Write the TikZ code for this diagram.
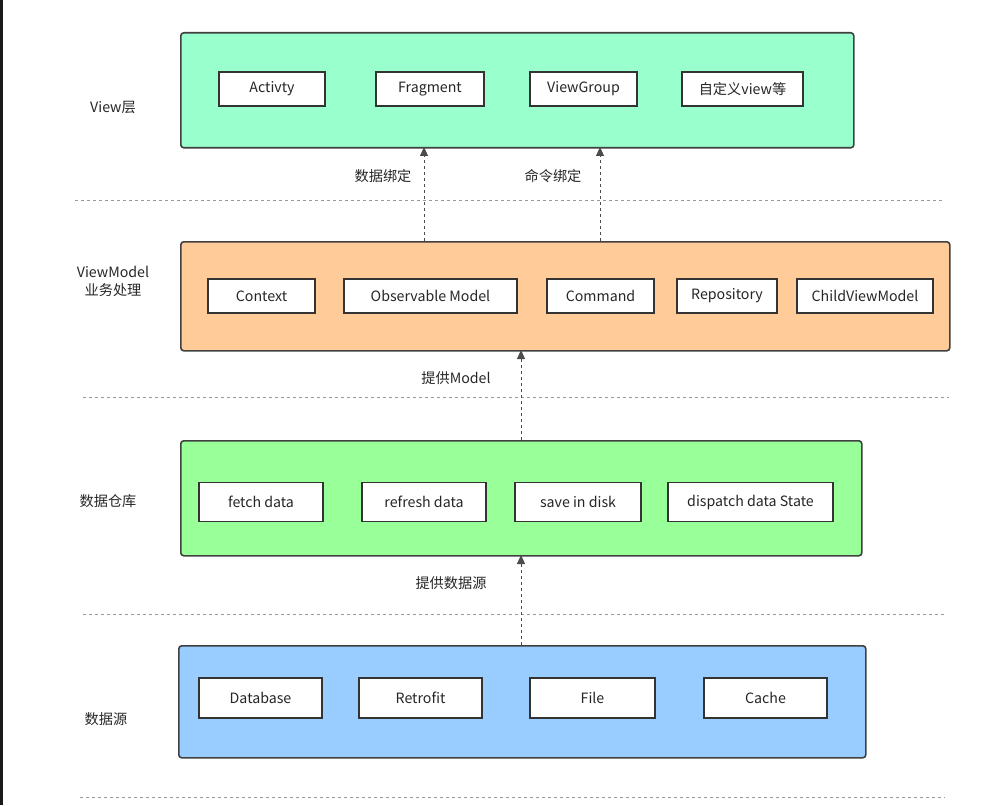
\documentclass[tikz,border=0pt]{standalone}
\usepackage{fontspec}
\setmainfont{Noto Sans CJK SC}
\usetikzlibrary{arrows.meta}
\definecolor{vg}{HTML}{99FFCC}
\definecolor{vo}{HTML}{FFCC99}
\definecolor{vl}{HTML}{99FF99}
\definecolor{vb}{HTML}{99CCFF}
\begin{document}
\begin{tikzpicture}[x=1pt,y=-1pt,font=\fontsize{14.2}{16}\selectfont,
 layer/.style={draw=black!75,line width=1.6pt,rounded corners=3pt},
 item/.style={draw=black!80,line width=1.6pt,fill=white,inner sep=0pt,text=black!85},
 sep/.style={draw=black!40,dashed,line width=0.8pt},
 flow/.style={draw=black!70,dashed,line width=1pt,-{Triangle[length=9pt,width=8pt]}},
 lbl/.style={text=black!85,align=center}]
\useasboundingbox (0,0) rectangle (984,805);
\fill[black!90] (0,0) rectangle (3,805);
\node[layer,fill=vg,minimum width=673,minimum height=115,anchor=north west] (view) at (180,32) {};
\node[layer,fill=vo,minimum width=769,minimum height=109,anchor=north west] (vm) at (180,241) {};
\node[layer,fill=vl,minimum width=681,minimum height=115,anchor=north west] (repo) at (180,440) {};
\node[layer,fill=vb,minimum width=687,minimum height=112,anchor=north west] (src) at (178,645) {};
\foreach \n/\t/\a/\b in {a1/Activty/219/325,a2/Fragment/376/484,a3/ViewGroup/530/637,a4/自定义view等/682/803}
 \node[item,minimum width=\b-\a,minimum height=34] (\n) at ({(\a+\b)/2},89) {\t};
\foreach \n/\t/\a/\b in {b1/Context/208/315,b2/Observable Model/344/517,b3/Command/547/654,b4/Repository/677/777,b5/ChildViewModel/797/933}
 \node[item,minimum width=\b-\a,minimum height=34] (\n) at ({(\a+\b)/2},296) {\t};
\foreach \n/\t/\a/\b in {c1/fetch data/199/323,c2/refresh data/362/486,c3/save in disk/515/641,c4/dispatch data State/668/833}
 \node[item,minimum width=\b-\a,minimum height=39] (\n) at ({(\a+\b)/2},502) {\t};
\foreach \n/\t/\a/\b in {d1/Database/199/322,d2/Retrofit/359/482,d3/File/530/655,d4/Cache/704/827}
 \node[item,minimum width=\b-\a,minimum height=40] (\n) at ({(\a+\b)/2},698) {\t};
\draw[sep] (75,200) -- (945,200);
\draw[sep] (83,397) -- (949,397);
\draw[sep] (83,614) -- (945,614);
\draw[sep] (80,797) -- (945,797);
\coordinate (p1) at (424,241); \coordinate (q1) at (424,147);
\coordinate (p2) at (600,241); \coordinate (q2) at (600,147);
\coordinate (p3) at (521,440); \coordinate (q3) at (521,350);
\coordinate (p4) at (521,645); \coordinate (q4) at (521,555);
\draw[flow] (p1) -- (q1);
\draw[flow] (p2) -- (q2);
\draw[flow] (p3) -- (q3);
\draw[flow] (p4) -- (q4);
\node[lbl] (l1) at (383,176) {数据绑定};
\node[lbl] (l2) at (553,176) {命令绑定};
\node[lbl] (l3) at (456,378) {提供Model};
\node[lbl] (l4) at (451,583) {提供数据源};
\node[lbl] (s1) at (113,108) {View层};
\node[lbl,font=\fontsize{14.2}{18}\selectfont] (s2) at (113,281) {ViewModel\\业务处理};
\node[lbl] (s3) at (108,501) {数据仓库};
\node[lbl] (s4) at (106,719) {数据源};
\end{tikzpicture}
\end{document}
